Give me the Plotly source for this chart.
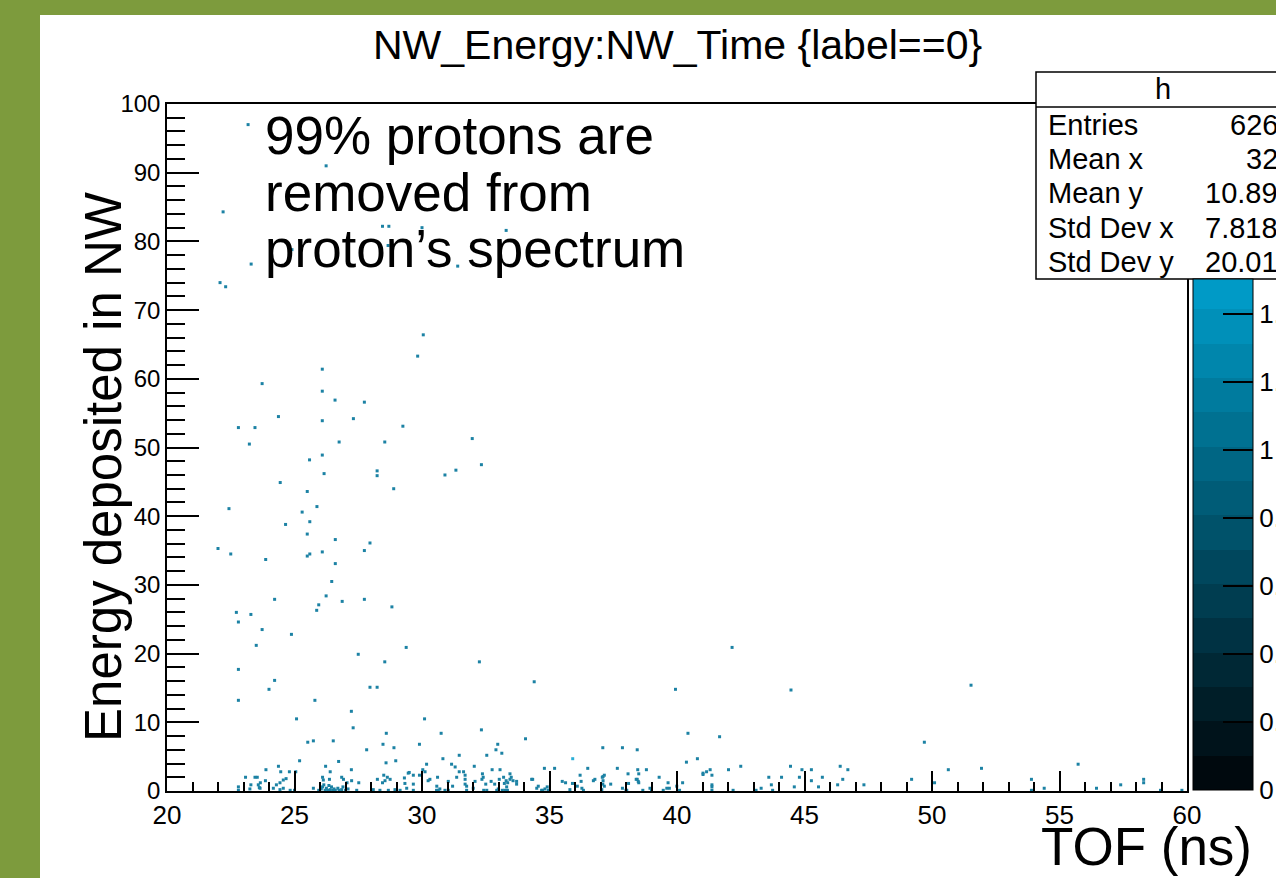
import plotly.graph_objects as go

# ---------------- data ----------------
# scattered entries above the low-energy band: TOF (ns), energy deposited
tof_upper = [23.18, 26.24, 22.2, 28.45, 28.7, 30.0, 33.3, 28.67, 24.9, 31.4,
             23.3, 22.08, 22.3, 30.05, 29.83, 26.09, 23.73, 26.09, 26.59, 27.74,
             24.37, 26.09, 27.31, 22.8, 23.45, 29.25, 23.23, 26.75, 28.54, 31.97,
             26.09, 25.59, 32.33, 31.33, 26.16, 28.24, 28.24, 30.9, 24.44, 28.89,
             25.5, 22.43, 25.88, 25.3, 25.6, 24.65, 25.5, 26.6, 27.96, 22.0,
             22.5, 25.5, 25.6, 26.09, 27.74, 23.87, 26.6, 26.46, 26.24, 24.22,
             26.87, 27.74, 25.95, 25.87, 28.82, 22.72, 23.29, 22.8, 23.73, 24.88,
             23.5, 29.38, 42.16, 27.5, 28.54, 32.25, 22.8, 24.22, 34.4, 51.53,
             27.96, 28.24, 24.0, 39.94, 44.47, 22.8, 25.8, 27.23, 25.08, 30.1,
             27.3, 32.33, 28.6, 30.75, 40.43, 41.67, 34.06, 25.74, 26.52, 25.52,
             49.7, 28.47, 29.9, 32.97, 28.9, 37.09, 37.86, 27.83, 32.9, 38.44,
             33.13, 32.54, 31.46]
energy_upper = [97.0, 91.0, 84.3, 82.2, 82.2, 82.0, 81.6, 79.4, 78.8, 76.4,
                76.7, 74.0, 73.4, 66.4, 63.3, 61.4, 59.3, 58.2, 56.9, 56.6,
                54.5, 53.9, 54.2, 52.9, 52.9, 53.1, 50.5, 50.8, 50.8, 51.3,
                48.9, 48.2, 47.5, 46.7, 46.2, 46.6, 45.9, 46.0, 44.9, 44.0,
                43.6, 41.1, 41.4, 40.6, 39.2, 38.8, 37.4, 36.6, 36.1, 35.3,
                34.5, 34.2, 34.5, 34.8, 35.0, 33.7, 33.1, 30.5, 28.4, 27.9,
                27.6, 27.9, 27.1, 26.3, 26.8, 26.0, 25.7, 24.6, 23.5, 22.8,
                21.2, 20.9, 20.9, 19.9, 18.8, 18.8, 17.7, 16.1, 15.9, 15.4,
                15.1, 15.1, 14.8, 14.8, 14.7, 13.2, 13.2, 11.6, 10.5, 10.5,
                9.2, 8.9, 8.4, 8.4, 8.4, 7.9, 7.6, 7.3, 7.3, 7.1,
                7.1, 6.8, 6.8, 6.8, 6.3, 6.3, 6.3, 6.0, 6.0, 6.0,
                5.5, 5.2, 5.2]

# entries in the low-energy band (energy < 5)
tof_band = [25.2, 28.97, 28.59, 30.18, 30.82, 31.16, 31.3, 24.37, 26.73, 26.22,
            32.05, 32.75, 33.06, 34.8, 35.2, 36.5, 37.66, 38.46, 27.23, 23.88,
            25.05, 30.03, 30.12, 32.37, 33.45, 40.37, 40.8, 38.8, 42.02, 42.5,
            44.45, 44.9, 45.27, 46.4, 46.7, 50.64, 51.94, 55.73, 37.1, 38.08,
            38.4, 39.3, 39.65, 40.22, 41.02, 41.02, 41.16, 41.3, 41.37, 41.37,
            41.37, 41.37, 43.6, 43.7, 44.1, 44.6, 44.8, 45.27, 45.55, 45.7,
            46.5, 46.3, 47.33, 49.2, 50.1, 53.9, 53.9, 54.4, 56.45, 57.4,
            58.3, 58.3, 58.96, 59.8, 42.2, 43.1, 43.3, 43.75, 39.0, 40.1,
            39.7, 26.4, 24.46, 24.8, 28.5, 29.46, 29.66, 29.9, 23.08, 23.45,
            23.54, 23.86, 23.66, 23.29, 23.58, 23.65, 24.17, 24.29, 24.43, 24.56,
            24.67, 26.1, 26.13, 26.85, 27.06, 27.24, 27.52, 28.25, 28.45, 28.55,
            28.75, 29.31, 29.5, 29.33, 29.66, 25.95, 26.05, 26.1, 26.2, 26.25,
            26.3, 26.4, 26.45, 26.5, 26.55, 26.6, 26.7, 26.75, 26.85, 26.9,
            27.0, 27.1, 26.15, 26.35, 22.8, 22.8, 25.0, 24.83, 23.25, 23.62,
            24.43, 24.56, 25.74, 27.44, 28.09, 28.35, 28.68, 28.94, 29.14, 29.4,
            29.66, 30.57, 30.7, 31.03, 32.01, 32.54, 32.99, 33.25, 33.32, 34.5,
            34.69, 34.82, 34.95, 35.8, 36.33, 37.05, 38.03, 26.37, 26.92, 28.64,
            30.31, 30.61, 31.03, 31.36, 31.69, 32.08, 32.4, 32.71, 33.03, 33.23,
            33.45, 33.71, 34.3, 35.5, 35.9, 36.24, 36.78, 38.1, 38.48, 31.46,
            31.63, 31.69, 32.35, 32.5, 32.85, 33.2, 33.3, 33.36, 33.5, 33.57,
            33.71, 36.2, 36.72, 37.07, 37.15, 37.1, 38.5, 38.44, 38.5, 35.63,
            34.34, 30.24, 30.58, 30.64, 30.9, 31.2, 31.69, 31.75, 31.75, 32.42,
            32.93, 33.15, 33.35, 34.56, 34.73, 34.91, 34.98, 36.09, 36.27, 37.09,
            37.15, 37.4, 37.86, 38.0, 38.66, 38.94, 39.46, 39.6, 39.99]
energy_band = [4.4, 4.4, 4.1, 3.9, 4.7, 3.9, 3.5, 3.6, 4.3, 3.6,
               3.6, 3.1, 3.1, 3.3, 3.3, 3.3, 3.3, 3.1, 3.1, 3.1,
               2.8, 3.1, 2.8, 2.5, 2.5, 4.2, 4.7, 3.1, 3.1, 3.6,
               3.6, 3.1, 3.1, 3.6, 3.1, 3.1, 3.3, 3.9, 2.1, 2.5,
               1.7, 2.0, 1.2, 1.2, 2.6, 2.4, 2.8, 3.1, 2.3, 0.9,
               0.6, 0.1, 2.0, 0.9, 2.0, 0.6, 2.0, 1.5, 0.6, 2.0,
               1.7, 0.9, 0.9, 1.7, 1.2, 1.7, 0.1, 0.4, 0.4, 0.9,
               1.7, 1.2, 0.1, 0.1, 0.1, 0.1, 0.4, 0.1, 0.2, 0.1,
               0.4, 2.8, 2.8, 2.8, 2.3, 2.6, 2.3, 2.3, 2.0, 2.0,
               2.0, 1.5, 1.2, 0.9, 0.9, 0.4, 0.4, 0.9, 1.2, 1.6,
               1.8, 2.0, 1.6, 2.0, 1.2, 1.5, 1.2, 1.7, 1.2, 1.5,
               1.7, 1.9, 2.7, 1.1, 1.0, 0.1, 0.3, 0.6, 0.1, 0.4,
               0.1, 0.2, 0.6, 0.1, 0.3, 0.1, 0.4, 0.1, 0.2, 0.6,
               0.1, 0.3, 0.9, 0.8, 0.6, 0.1, 0.1, 0.1, 0.3, 0.5,
               0.2, 0.4, 0.4, 0.1, 0.2, 0.1, 0.1, 0.2, 0.1, 0.4,
               0.1, 0.1, 0.3, 0.1, 0.4, 0.1, 0.3, 0.1, 0.6, 0.4,
               0.1, 0.3, 0.1, 0.2, 0.1, 0.2, 0.1, 1.7, 1.7, 2.0,
               1.7, 2.0, 1.4, 2.0, 1.7, 1.4, 2.0, 1.4, 1.7, 1.1,
               1.7, 1.4, 1.7, 1.4, 1.1, 1.4, 1.7, 1.1, 1.4, 2.8,
               2.8, 2.3, 1.7, 1.0, 1.0, 2.0, 1.5, 1.2, 2.0, 1.5,
               1.0, 2.3, 1.5, 2.0, 2.3, 1.5, 2.5, 1.7, 1.2, 1.2,
               1.7, 1.5, 0.7, 0.1, 0.1, 0.7, 1.0, 0.7, 0.1, 0.1,
               0.1, 0.1, 0.1, 0.7, 0.1, 0.6, 0.1, 0.7, 0.4, 1.0,
               0.7, 1.0, 0.4, 0.1, 0.1, 0.4, 0.1, 0.4, 0.7]

# bin with two entries (brighter cell)
tof_double = [35.91]
energy_double = [4.7]

assert len(tof_upper) == len(energy_upper)
assert len(tof_band) == len(energy_band)

stats_labels = ["Entries", "Mean x", "Mean y", "Std Dev x", "Std Dev y"]
stats_values = ["626", "32", "10.89", "7.818", "20.01"]

cbar_tickvals = [0, 0.2, 0.4, 0.6, 0.8, 1.0, 1.2, 1.4]
cbar_ticktext = ["0", "0.2", "0.4", "0.6", "0.8", "1", "1.2", "1.4"]

# ---------------- geometry helpers ----------------
W, H = 1276, 878
L, R, T, B = 167, 1187, 104, 791


def px(xp):
    return (xp - L) / (R - L)


def py(yp):
    return (B - yp) / (B - T)


FONT = "Liberation Sans, Arial, Helvetica, sans-serif"
GREEN = "#7d9b3d"
DOT = "#1c82a4"
DOT2 = "#2aaed6"

# discrete palette (black -> teal -> cyan), visible part up to ~1.5
band_w = 0.101
cb_max = 1.503
colorscale = []
i = 0
while i * band_w < cb_max:
    lo = i * band_w / cb_max
    hi = min((i + 1) * band_w / cb_max, 1.0)
    c = (i + 0.5) * band_w
    col = f"rgb(0,{int(4 + 103 * c)},{int(8 + 130 * c)})"
    colorscale += [[lo, col], [hi, col]]
    i += 1

fig = go.Figure()

fig.add_trace(go.Scatter(
    x=tof_upper + tof_band, y=energy_upper + energy_band,
    mode="markers",
    marker=dict(symbol="square", size=3, color=DOT, line=dict(width=0)),
    showlegend=False, hoverinfo="x+y"))

fig.add_trace(go.Scatter(
    x=tof_double, y=energy_double, mode="markers",
    marker=dict(symbol="square", size=3, color=DOT2, line=dict(width=0)),
    showlegend=False, hoverinfo="x+y"))

# colour scale of the histogram (z axis)
fig.add_trace(go.Scatter(
    x=[19], y=[-10], mode="markers", showlegend=False, hoverinfo="skip",
    marker=dict(color=[0], colorscale=colorscale, cmin=0, cmax=cb_max,
                size=1, showscale=True,
                colorbar=dict(
                    thickness=60, thicknessmode="pixels",
                    len=511, lenmode="pixels",
                    x=px(1193), xanchor="left",
                    y=py(790), yanchor="bottom",
                    xpad=0, ypad=0,
                    outlinecolor="black", outlinewidth=1,
                    ticks="inside", ticklen=30, tickwidth=1.5,
                    tickcolor="black",
                    tickvals=cbar_tickvals, ticktext=cbar_ticktext,
                    tickfont=dict(family=FONT, size=26, color="black")))))

shapes = [
    # white slide area (green border left/top)
    dict(type="rect", xref="paper", yref="paper", layer="below",
         x0=px(40), x1=px(1320), y0=py(900), y1=py(15),
         fillcolor="white", line=dict(width=0)),
    # stats box
    dict(type="rect", xref="paper", yref="paper", layer="above",
         x0=px(1036), x1=px(1330), y0=py(279), y1=py(72),
         fillcolor="white", line=dict(color="black", width=1.5)),
    dict(type="line", xref="paper", yref="paper", layer="above",
         x0=px(1036), x1=px(1330), y0=py(107), y1=py(107),
         line=dict(color="black", width=1.5)),
]

annotations = [
    dict(text="h", x=px(1163), y=py(89), xref="paper", yref="paper",
         xanchor="center", yanchor="middle", showarrow=False,
         font=dict(family=FONT, size=29, color="black")),
]
row_y = [125, 159, 193, 228, 262]
for lab, val, yy in zip(stats_labels, stats_values, row_y):
    annotations.append(dict(text=lab, x=px(1046), y=py(yy), xref="paper", yref="paper",
                            xanchor="left", yanchor="middle", showarrow=False,
                            font=dict(family=FONT, size=29, color="black")))
    annotations.append(dict(text=val, x=px(1280), y=py(yy), xref="paper", yref="paper",
                            xanchor="right", yanchor="middle", showarrow=False,
                            font=dict(family=FONT, size=29, color="black")))

note_lines = ["99% protons are", "removed from", "proton\u2019s spectrum"]
for line, yy in zip(note_lines, [135, 192, 248]):
    annotations.append(dict(text=line, x=px(263), y=py(yy), xref="paper", yref="paper",
                            xanchor="left", yanchor="middle", showarrow=False,
                            font=dict(family=FONT, size=53, color="black")))

annotations.append(dict(text="Energy deposited in NW", textangle=-90,
                        x=px(103), y=py(467), xref="paper", yref="paper",
                        xanchor="center", yanchor="middle", showarrow=False,
                        font=dict(family=FONT, size=51, color="black")))
annotations.append(dict(text="TOF (ns)", x=px(1146), y=py(846), xref="paper", yref="paper",
                        xanchor="center", yanchor="middle", showarrow=False,
                        font=dict(family=FONT, size=53, color="black")))
annotations.append(dict(text="NW_Energy:NW_Time {label==0}", x=px(677), y=py(45),
                        xref="paper", yref="paper", xanchor="center", yanchor="middle",
                        showarrow=False, font=dict(family=FONT, size=41, color="black")))

fig.update_layout(
    width=W, height=H,
    margin=dict(l=L, r=W - R, t=T, b=H - B, pad=0, autoexpand=False),
    paper_bgcolor=GREEN, plot_bgcolor="white",
    font=dict(family=FONT, color="black"),
    shapes=shapes, annotations=annotations,
    xaxis=dict(range=[20, 60], tick0=20, dtick=5, ticks="inside", ticklen=20,
               tickwidth=1.5, tickcolor="black", showgrid=False, zeroline=False,
               showline=True, linecolor="black", linewidth=1.5, mirror=True,
               tickfont=dict(family=FONT, size=26, color="black"),
               minor=dict(dtick=1, ticks="inside", ticklen=9, tickwidth=1.5,
                          tickcolor="black", showgrid=False)),
    yaxis=dict(range=[0, 100], tick0=0, dtick=10, ticks="inside", ticklen=32,
               tickwidth=1.5, tickcolor="black", showgrid=False, zeroline=False,
               showline=True, linecolor="black", linewidth=1.5, mirror=True,
               tickfont=dict(family=FONT, size=24, color="black"),
               minor=dict(dtick=2, ticks="inside", ticklen=18, tickwidth=1.5,
                          tickcolor="black", showgrid=False)),
)

fig.write_html("out.html",
               config={"displayModeBar": False},
               post_script="document.body.style.margin='0px';"
                           "document.body.style.overflow='hidden';")
